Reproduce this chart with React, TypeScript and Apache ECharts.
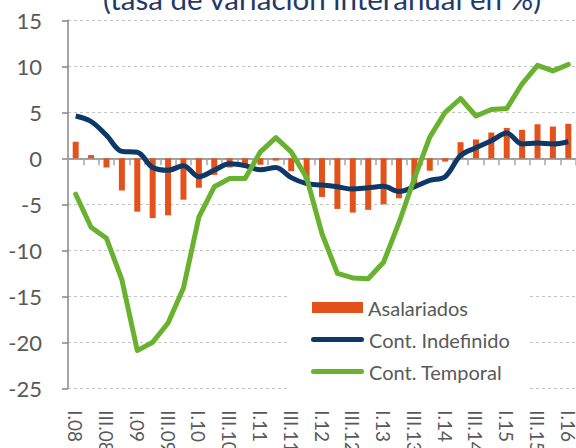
import React, { useEffect, useRef } from "react";
import * as echarts from "echarts";

const categories = [
  "I.08","II.08","III.08","IV.08",
  "I.09","II.09","III.09","IV.09",
  "I.10","II.10","III.10","IV.10",
  "I.11","II.11","III.11","IV.11",
  "I.12","II.12","III.12","IV.12",
  "I.13","II.13","III.13","IV.13",
  "I.14","II.14","III.14","IV.14",
  "I.15","II.15","III.15","IV.15",
  "I.16",
];

const asalariados = [
  1.8, 0.35, -1.0, -3.5,
  -5.8, -6.5, -6.2, -4.5,
  -3.2, -1.8, -1.0, -1.0,
  -0.7, -0.25, -1.4, -2.3,
  -4.2, -5.5, -5.9, -5.6,
  -5.0, -4.35, -3.0, -1.35,
  -0.35, 1.75, 2.05, 2.8,
  3.3, 3.1, 3.7, 3.45,
  3.75,
];

const indefinido = [
  4.6, 4.0, 2.5, 0.75,
  0.65, -1.0, -1.3, -0.8,
  -2.0, -1.3, -0.6, -0.8,
  -1.25, -1.0, -2.1, -2.75,
  -2.9, -3.1, -3.35, -3.2,
  -3.05, -3.6, -3.1, -2.4,
  -2.0, 0.3, 1.15, 1.9,
  2.75, 1.55, 1.65, 1.55,
  1.8,
];

const temporal = [
  -3.9, -7.5, -8.7, -13.2,
  -20.9, -20.0, -17.9, -14.1,
  -6.4, -3.1, -2.2, -2.2,
  0.7, 2.25, 0.7, -2.1,
  -8.2, -12.5, -13.0, -13.1,
  -11.3, -7.0, -2.2, 2.3,
  5.0, 6.5, 4.6, 5.3,
  5.4, 8.1, 10.1, 9.5,
  10.2,
];

const yTicks = { min: -25, max: 15, interval: 5 };
const titleText = "(tasa de variación interanual en %)";
const seriesNames = ["Asalariados", "Cont. Indefinido", "Cont. Temporal"];

const FONT = "Lato";
const GREY = "#595959";
const ORANGE = "#E2521A";
const NAVY = "#0D3868";
const GREEN = "#68B22F";
const CAPSULE = "path://M2.5,0 H50.5 A2.5,2.5 0 0 1 50.5,5 H2.5 A2.5,2.5 0 0 1 2.5,0 Z";

export default function App() {
  const ref = useRef<HTMLDivElement>(null);
  useEffect(() => {
    if (!ref.current) return;
    const chart = echarts.init(ref.current, undefined, { renderer: "svg" });
    const legendText = { fontFamily: FONT, fontSize: 20, color: GREY };
    chart.setOption({
      animation: false,
      backgroundColor: "#fff",
      grid: {
        left: 68, right: 0, top: 20.3, bottom: 59.7,
        containLabel: false,
        outerBoundsMode: "none",
      },
      xAxis: [
        {
          type: "category",
          data: categories,
          position: "bottom",
          axisLine: { show: false, onZero: false },
          axisTick: { show: false },
          axisLabel: {
            interval: 1,
            rotate: -90,
            margin: 22,
            fontFamily: FONT,
            fontSize: 19,
            color: GREY,
          },
          splitLine: { show: false },
        },
        {
          type: "category",
          data: categories,
          position: "top",
          axisLine: { show: true, onZero: true, lineStyle: { color: "#868686", width: 1.5 } },
          axisTick: { show: true, inside: true, interval: 0, length: 7, lineStyle: { color: "#A6A6A6", width: 1.5 } },
          axisLabel: { show: false },
          splitLine: { show: false },
        },
      ],
      yAxis: {
        type: "value",
        min: yTicks.min,
        max: yTicks.max,
        interval: yTicks.interval,
        axisLine: { show: true, lineStyle: { color: "#868686", width: 1.5 } },
        axisTick: { show: true, length: 6, lineStyle: { color: "#868686", width: 1.5 } },
        axisLabel: { margin: 26, fontFamily: FONT, fontSize: 22, color: GREY },
        splitLine: { show: true, lineStyle: { color: "#C4C4C4", type: [3, 3], width: 1 } },
      },
      legend: [
        {
          data: [{ name: seriesNames[0], icon: "rect" }],
          left: 312, top: 297.5, padding: 0,
          itemWidth: 51, itemHeight: 11,
          textStyle: legendText,
        },
        {
          data: [{ name: seriesNames[1], icon: CAPSULE }],
          left: 311, top: 329.5, padding: 0,
          itemWidth: 53, itemHeight: 5,
          textStyle: legendText,
        },
        {
          data: [{ name: seriesNames[2], icon: CAPSULE }],
          left: 311, top: 361.5, padding: 0,
          itemWidth: 53, itemHeight: 5,
          textStyle: legendText,
        },
      ],
      graphic: [
        {
          type: "rect",
          z: 1,
          shape: { x: 290, y: 284, width: 237, height: 106 },
          style: { fill: "#fff" },
          silent: true,
        },
        {
          type: "text",
          z: 10,
          x: 322,
          y: -2,
          style: {
            text: titleText,
            fontFamily: FONT,
            fontSize: 29.5,
            fill: "#1F3B6B",
            align: "center",
            verticalAlign: "middle",
          },
        },
      ],
      series: [
        {
          name: seriesNames[0],
          type: "bar",
          data: asalariados,
          barWidth: 6,
          itemStyle: { color: ORANGE },
          z: 3,
        },
        {
          name: seriesNames[1],
          type: "line",
          data: indefinido,
          smooth: 0.35,
          symbol: "none",
          lineStyle: { color: NAVY, width: 5 },
          itemStyle: { color: NAVY },
          z: 4,
        },
        {
          name: seriesNames[2],
          type: "line",
          data: temporal,
          symbol: "none",
          lineStyle: { color: GREEN, width: 5, join: "round", cap: "round" },
          itemStyle: { color: GREEN },
          z: 5,
        },
      ],
    });
    return () => chart.dispose();
  }, []);
  return (
    <div
      ref={ref}
      style={{ position: "fixed", left: 0, top: 0, width: 576, height: 448 }}
    />
  );
}
